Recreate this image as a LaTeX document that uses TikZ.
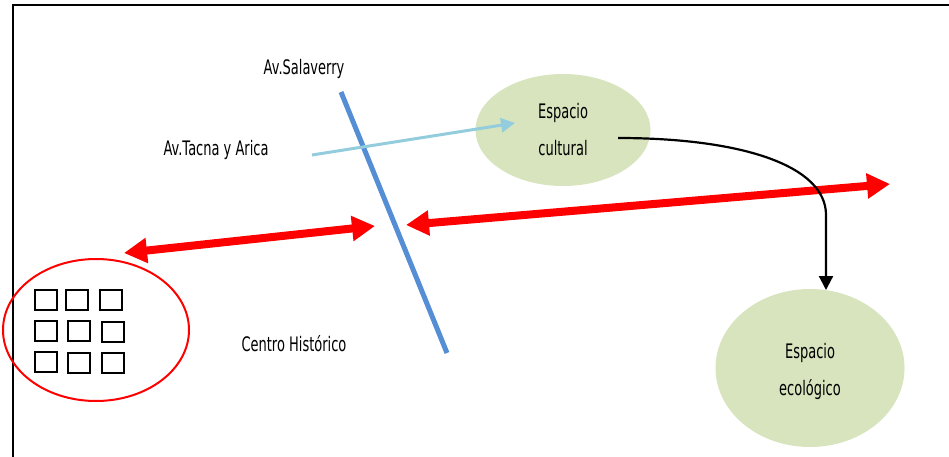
\documentclass[tikz,border=0pt]{standalone}
\usepackage{fontspec}
\setmainfont{DejaVu Sans}[FakeStretch=0.65]
\usepackage{xcolor}
\usetikzlibrary{shapes.geometric, arrows.meta, positioning, calc}

\definecolor{zonafill}{HTML}{D7E4BD}
\definecolor{avblue}{HTML}{558ED5}
\definecolor{avlight}{HTML}{93CDDD}

\begin{document}
\begin{tikzpicture}[
    x=1pt, y=-1pt,
    espacio/.style={ellipse, fill=zonafill, minimum width=175pt, minimum height=112pt, font=\fontsize{20}{37}\selectfont, align=center},
    manzana/.style={rectangle, draw, line width=1.5pt, minimum width=22pt, minimum height=20pt},
    label/.style={font=\fontsize{20}{22}\selectfont},
    flecha/.style={{Triangle[length=23pt,width=24pt]}-{Triangle[length=23pt,width=24pt]}, red, line width=8pt},
]
\useasboundingbox (0,0) rectangle (949,457);

% Marco
\draw[line width=2pt] (13,457) -- (13,5) -- (949,5);

% Avenidas
\coordinate (salN) at (341,92);
\coordinate (salS) at (447,353);
\draw[avblue, line width=5pt] (salN) -- (salS);
\node[label] (salaverry) at (304,69) {Av.Salaverry};
\node[label] (tacna) at (216,150) {Av.Tacna y Arica};

% Espacios
\node[espacio] (cultural) at (563,130) {Espacio\\cultural};
\node[espacio, minimum width=189pt, minimum height=158pt] (ecologico) at (810,368) {};
\node[font=\fontsize{20}{37}\selectfont, align=center] (ecologicoTxt) at (810,371) {Espacio\\ecológico};

% Centro Historico
\node[ellipse, draw=red, line width=2pt, minimum width=186pt, minimum height=142pt] (centro) at (96,330) {};
\node[label] (historico) at (294,344) {Centro Histórico};
\foreach \x/\y in {46/300, 77/300, 111/300, 46/331, 79/331, 113/332, 46/362, 79/363, 113/363}
    \node[manzana] at (\x,\y) {};

% Conexiones
\coordinate (tacnaE) at (312,155);
\coordinate (culturalW) at (515,123);
\draw[avlight, line width=3pt, -{Triangle[length=14pt,width=14pt]}] (tacnaE) -- (culturalW);

\coordinate (izqA) at (124,253);
\coordinate (izqB) at (375,226);
\draw[flecha] (izqA) -- (izqB);

\coordinate (derA) at (406,225);
\coordinate (derB) at (890,184);
\draw[flecha] (derA) -- (derB);

\coordinate (culturalE) at (618,138);
\coordinate (ecologicoN) at (826,290);
\draw[line width=2.2pt, -{Triangle[length=14pt,width=14pt]}] (culturalE) .. controls (740,138) and (826,165) .. (826,215) -- (ecologicoN);
\end{tikzpicture}
\end{document}
